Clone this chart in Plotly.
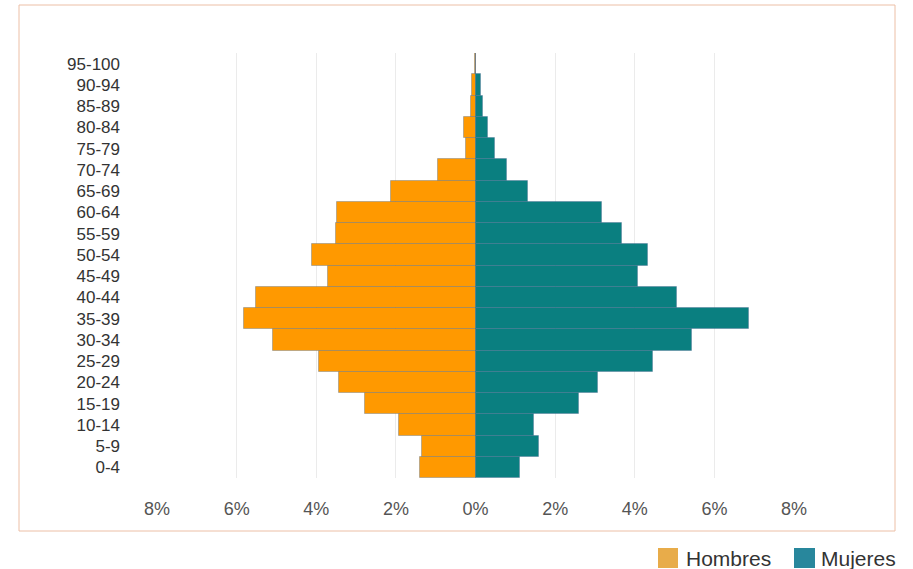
import plotly.graph_objects as go

age_groups = ["0-4", "5-9", "10-14", "15-19", "20-24", "25-29", "30-34", "35-39",
              "40-44", "45-49", "50-54", "55-59", "60-64", "65-69", "70-74", "75-79",
              "80-84", "85-89", "90-94", "95-100"]
hombres = [1.39, 1.35, 1.93, 2.77, 3.44, 3.94, 5.08, 5.81, 5.52, 3.71,
           4.10, 3.51, 3.48, 2.13, 0.93, 0.25, 0.30, 0.12, 0.08, 0.02]
mujeres = [1.13, 1.59, 1.48, 2.60, 3.07, 4.47, 5.45, 6.87, 5.07, 4.09,
           4.34, 3.67, 3.17, 1.33, 0.78, 0.49, 0.32, 0.20, 0.14, 0.02]
tick_vals = [-8, -6, -4, -2, 0, 2, 4, 6, 8]
tick_text = ["8%", "6%", "4%", "2%", "0%", "2%", "4%", "6%", "8%"]
legend_names = ["Hombres", "Mujeres"]

W, H = 913, 569
L, R, T, B = 157, 119, 53, 91
pw, ph = W - L - R, H - T - B


def px(x):
    return (x - L) / pw


def py(y):
    return (H - B - y) / ph


edge = dict(color="rgba(70,100,140,0.35)", width=1)
fig = go.Figure()
fig.add_trace(go.Bar(y=age_groups, x=[-v for v in hombres], orientation="h",
                     name=legend_names[0], marker=dict(color="#ff9900", line=edge),
                     showlegend=False, customdata=hombres,
                     hovertemplate="%{y}: %{customdata}%<extra>Hombres</extra>"))
fig.add_trace(go.Bar(y=age_groups, x=mujeres, orientation="h",
                     name=legend_names[1], marker=dict(color="#0a7f80", line=edge),
                     showlegend=False,
                     hovertemplate="%{y}: %{x}%<extra>Mujeres</extra>"))

shapes = [
    dict(type="rect", xref="paper", yref="paper",
         x0=px(19), x1=px(895), y0=py(531), y1=py(5),
         line=dict(color="#ecbfa6", width=1), fillcolor="rgba(0,0,0,0)", layer="below"),
    dict(type="rect", xref="paper", yref="paper",
         x0=px(658), x1=px(678), y0=py(568), y1=py(548),
         line=dict(width=0), fillcolor="#e8ac4a"),
    dict(type="rect", xref="paper", yref="paper",
         x0=px(794), x1=px(815), y0=py(568), y1=py(548),
         line=dict(width=0), fillcolor="#28879c"),
]
annotations = [
    dict(xref="paper", yref="paper", x=px(684), y=py(558), xanchor="left", yanchor="middle",
         text=legend_names[0], showarrow=False,
         font=dict(family="Liberation Sans, Arial, sans-serif", size=21, color="#333333")),
    dict(xref="paper", yref="paper", x=px(819), y=py(558), xanchor="left", yanchor="middle",
         text=legend_names[1], showarrow=False,
         font=dict(family="Liberation Sans, Arial, sans-serif", size=21, color="#333333")),
]

fig.update_layout(
    width=W, height=H,
    margin=dict(l=L, r=R, t=T, b=B, autoexpand=False),
    paper_bgcolor="white", plot_bgcolor="white",
    barmode="relative", bargap=0,
    showlegend=False,
    shapes=shapes, annotations=annotations,
    xaxis=dict(range=[-8, 8], tickvals=tick_vals, ticktext=tick_text,
               showgrid=True, gridcolor="#ebebeb", gridwidth=1,
               zeroline=False, showline=False, ticks="", ticklen=0,
               ticklabelstandoff=18,
               tickfont=dict(family="Liberation Sans, Arial, sans-serif", size=18, color="#555555"),
               fixedrange=True),
    yaxis=dict(categoryorder="array", categoryarray=age_groups, range=[-0.5, 19.5],
               showgrid=False, zeroline=False, showline=False, ticks="",
               ticklabelstandoff=36,
               tickfont=dict(family="Liberation Sans, Arial, sans-serif", size=17, color="#333333"),
               fixedrange=True),
)

fig.write_html("out.html",
               config={"displayModeBar": False},
               post_script="document.body.style.margin='0';document.body.style.overflow='hidden';")
